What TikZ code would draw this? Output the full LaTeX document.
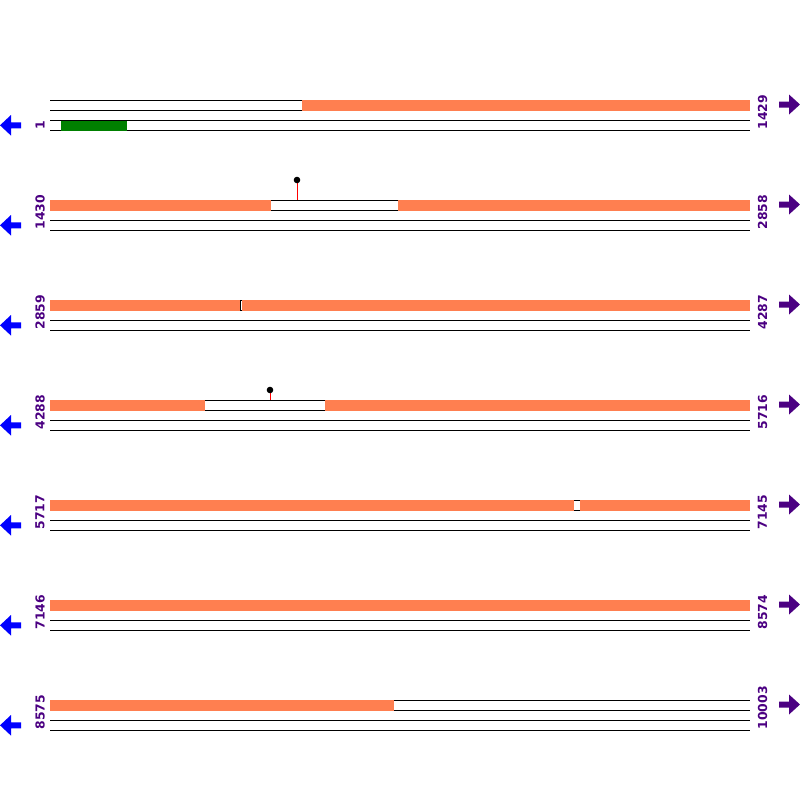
\documentclass[tikz,border=0pt]{standalone}
\usepackage{fontspec}
\setmainfont{DejaVu Sans}
\usepackage{tikz}
\definecolor{featcolor}{RGB}{255,127,80}
\definecolor{cdscolor}{RGB}{0,128,0}
\definecolor{poscolor}{RGB}{75,0,130}
\definecolor{revcolor}{RGB}{0,0,255}

\begin{document}
\begin{tikzpicture}[x=1pt,y=-1pt,line width=1pt,
  poslabel/.style={rotate=90,anchor=west,inner sep=0pt,text=poscolor,font=\fontsize{12.4}{13}\selectfont\bfseries},
  featbar/.style={fill=featcolor},
  stick/.style={draw=red,line width=1pt},
  head/.style={fill=black}]
\useasboundingbox (0,0) rectangle (800,800);
\foreach \i/\lo/\hi in {1/1/1429,2/1430/2858,3/2859/4287,4/4288/5716,5/5717/7145,6/7146/8574,7/8575/10003}{
  \foreach \dy in {0.5,10.5,20.5,30.5} \draw (50,100*\i+\dy) -- (750,100*\i+\dy);
  \node[poslabel](lo\i) at (40,100*\i+30){\lo};
  \node[poslabel](hi\i) at (762.5,100*\i+30){\hi};
  \fill[revcolor] (0,100*\i+25.3) -- (11,100*\i+15) -- (11,100*\i+22.3) -- (21,100*\i+22.3) -- (21,100*\i+28.3) -- (11,100*\i+28.3) -- (11,100*\i+35.6) -- cycle;
  \fill[poscolor] (800,100*\i+4.5) -- (789,100*\i-5.5) -- (789,100*\i+1.5) -- (779,100*\i+1.5) -- (779,100*\i+7.5) -- (789,100*\i+7.5) -- (789,100*\i+14.5) -- cycle;
}
\foreach \i/\a/\b in {1/302/750,2/50/271,2/398/750,3/50/240,3/242/750,4/50/205,4/325/750,5/50/574,5/580/750,6/50/750,7/50/394}
  \fill[featbar] (\a,100*\i) rectangle (\b,100*\i+11);
\draw (240,300) -- (240,311);
\fill[cdscolor] (61,120.5) rectangle (127,130.5);
\draw[stick] (297,180) -- (297,200);
\fill[head] (297,180) circle (3.3);
\draw[stick] (270,390) -- (270,400);
\fill[head] (270,390) circle (3.3);
\end{tikzpicture}
\end{document}
